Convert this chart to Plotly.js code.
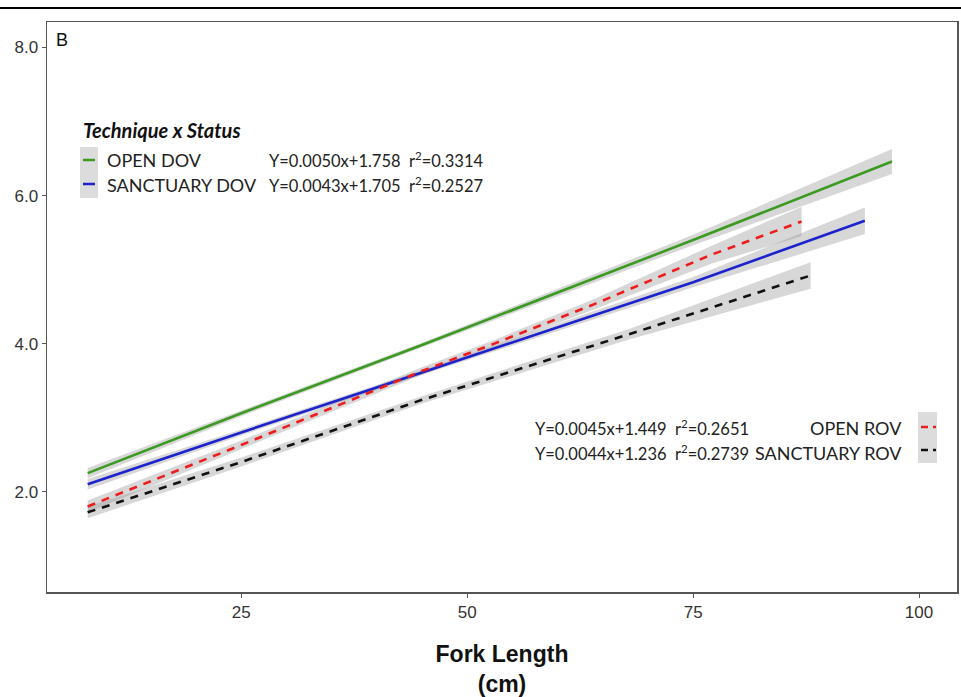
<!DOCTYPE html>
<html>
<head>
<meta charset="utf-8">
<script src="https://cdn.plot.ly/plotly-3.0.1.min.js"></script>
<style>html,body{margin:0;padding:0;background:#fff;}#chart{width:961px;height:697px;}</style>
</head>
<body>
<div id="chart"></div>
<script>
// ---- data ----
const openDovX = [8, 25, 45, 75, 97];
const openDovY = [2.25, 3.06, 3.98, 5.40, 6.46];
const openDovLo = [2.18, 3.02, 3.95, 5.33, 6.29];
const openDovHi = [2.32, 3.10, 4.01, 5.47, 6.63];

const sanctDovX = [8, 25, 45, 75, 94];
const sanctDovY = [2.10, 2.80, 3.61, 4.83, 5.66];
const sanctDovLo = [2.03, 2.76, 3.58, 4.76, 5.48];
const sanctDovHi = [2.17, 2.84, 3.64, 4.90, 5.84];

const openRovX = [8, 25, 45, 53, 64, 77, 87];
const openRovY = [1.80, 2.63, 3.63, 4.00, 4.53, 5.20, 5.65];
const openRovLo = [1.72, 2.57, 3.58, 3.95, 4.46, 5.08, 5.45];
const openRovHi = [1.88, 2.69, 3.68, 4.05, 4.60, 5.32, 5.85];

const sanctRovX = [8, 25, 45, 68, 88];
const sanctRovY = [1.72, 2.40, 3.24, 4.13, 4.92];
const sanctRovLo = [1.64, 2.34, 3.19, 4.06, 4.74];
const sanctRovHi = [1.80, 2.46, 3.29, 4.20, 5.10];

const seriesNames = ["OPEN DOV", "SANCTUARY DOV", "OPEN ROV", "SANCTUARY ROV"];
const equations = [
  "Y=0.0050x+1.758  r<sup>2</sup>=0.3314",
  "Y=0.0043x+1.705  r<sup>2</sup>=0.2527",
  "Y=0.0045x+1.449  r<sup>2</sup>=0.2651",
  "Y=0.0044x+1.236  r<sup>2</sup>=0.2739"
];
const legendTitle = "Technique x Status";
const panelLabel = "B";
const xTitle = "Fork Length<br>(cm)";

// ---- layout geometry ----
const W = 961, H = 697;
const mL = 47, mR = 4, mT = 22, mB = 105;
const pw = W - mL - mR, ph = H - mT - mB;
const px = x => (x - mL) / pw;
const py = y => (H - mB - y) / ph;

const bandFill = 'rgba(150,150,150,0.38)';
const colors = ['#3c9a23', '#1d22cc', '#ee1c1c', '#111111'];

function band(x, lo, hi) {
  return [
    {x: x, y: lo, mode: 'lines', line: {width: 0}, hoverinfo: 'skip', showlegend: false},
    {x: x, y: hi, mode: 'lines', line: {width: 0}, fill: 'tonexty', fillcolor: bandFill, hoverinfo: 'skip', showlegend: false}
  ];
}
function line(x, y, color, dash) {
  return {x: x, y: y, mode: 'lines', line: {color: color, width: 2.6, dash: dash}, showlegend: false};
}

const traces = [
  ...band(openDovX, openDovLo, openDovHi),
  ...band(sanctDovX, sanctDovLo, sanctDovHi),
  ...band(openRovX, openRovLo, openRovHi),
  ...band(sanctRovX, sanctRovLo, sanctRovHi),
  line(openDovX, openDovY, colors[0], 'solid'),
  line(sanctDovX, sanctDovY, colors[1], 'solid'),
  line(openRovX, openRovY, colors[2], '8px,7px'),
  line(sanctRovX, sanctRovY, colors[3], '8px,7px')
];

const legFont = {family: 'Lato, "Open Sans", sans-serif', size: 18, color: '#222'};
const titleFont = {family: 'Lato, "Open Sans", sans-serif', size: 20, color: '#111'};
const eqFont = {family: 'Lato, "Open Sans", sans-serif', size: 16.5, color: '#222'};

const annotations = [
  {text: panelLabel, x: px(54), y: py(40), xanchor: 'left', yanchor: 'middle', font: {family: 'Liberation Sans, Arial', size: 18, color: '#111'}},
  {text: '<b><i>' + legendTitle + '</i></b>', x: px(81), y: py(130), xanchor: 'left', yanchor: 'middle', font: titleFont},
  {text: seriesNames[0], x: px(105), y: py(160), xanchor: 'left', yanchor: 'middle', font: legFont},
  {text: seriesNames[1], x: px(105), y: py(185), xanchor: 'left', yanchor: 'middle', font: legFont},
  {text: equations[0], x: px(267), y: py(160), xanchor: 'left', yanchor: 'middle', font: eqFont},
  {text: equations[1], x: px(267), y: py(185), xanchor: 'left', yanchor: 'middle', font: eqFont},
  {text: equations[2], x: px(533), y: py(428), xanchor: 'left', yanchor: 'middle', font: eqFont},
  {text: equations[3], x: px(533), y: py(453), xanchor: 'left', yanchor: 'middle', font: eqFont},
  {text: seriesNames[2], x: px(904), y: py(428), xanchor: 'right', yanchor: 'middle', font: legFont},
  {text: seriesNames[3], x: px(904), y: py(453), xanchor: 'right', yanchor: 'middle', font: legFont}
].map(a => Object.assign({xref: 'paper', yref: 'paper', showarrow: false}, a));

const shapes = [
  // top rule
  {type: 'line', xref: 'paper', yref: 'paper', x0: px(0), x1: px(W), y0: py(8), y1: py(8), line: {color: '#000', width: 2}},
  // legend key boxes
  {type: 'rect', xref: 'paper', yref: 'paper', x0: px(80), x1: px(98), y0: py(147), y1: py(198), fillcolor: '#dcdcdc', line: {width: 0}, layer: 'below'},
  {type: 'rect', xref: 'paper', yref: 'paper', x0: px(918), x1: px(937), y0: py(412), y1: py(463), fillcolor: '#dcdcdc', line: {width: 0}, layer: 'below'},
  {type: 'line', xref: 'paper', yref: 'paper', x0: px(83), x1: px(95), y0: py(160), y1: py(160), line: {color: colors[0], width: 2.5}},
  {type: 'line', xref: 'paper', yref: 'paper', x0: px(83), x1: px(95), y0: py(184), y1: py(184), line: {color: colors[1], width: 2.5}},
  {type: 'line', xref: 'paper', yref: 'paper', x0: px(921), x1: px(936), y0: py(427), y1: py(427), line: {color: colors[2], width: 2.5, dash: '7px,5px'}},
  {type: 'line', xref: 'paper', yref: 'paper', x0: px(921), x1: px(936), y0: py(450), y1: py(450), line: {color: colors[3], width: 2.5, dash: '7px,5px'}}
];

const layout = {
  width: W, height: H,
  margin: {l: mL, r: mR, t: mT, b: mB, pad: 0},
  paper_bgcolor: '#fff', plot_bgcolor: '#fff',
  showlegend: false,
  xaxis: {
    range: [3.5, 104.2], tickvals: [25, 50, 75, 100], ticktext: ['25', '50', '75', '100'],
    showgrid: false, zeroline: false, showline: true, mirror: true, linecolor: '#555', linewidth: 1.5,
    ticks: 'outside', ticklen: 4, tickcolor: '#555', tickwidth: 1,
    tickfont: {family: 'Liberation Sans, Arial', size: 17, color: '#333'},
    title: {text: '<b>' + xTitle + '</b>', standoff: 29, font: {family: 'Liberation Sans, Arial', size: 23, color: '#111'}}
  },
  yaxis: {
    range: [0.644, 8.345], tickvals: [2, 4, 6, 8], ticktext: ['2.0', '4.0', '6.0', '8.0'],
    showgrid: false, zeroline: false, showline: true, mirror: true, linecolor: '#555', linewidth: 1.5,
    ticks: 'outside', ticklen: 4, tickcolor: '#555', tickwidth: 1,
    tickfont: {family: 'Liberation Sans, Arial', size: 17, color: '#333'}
  },
  annotations: annotations,
  shapes: shapes
};

Plotly.newPlot('chart', traces, layout, {staticPlot: true});
</script>
</body>
</html>
